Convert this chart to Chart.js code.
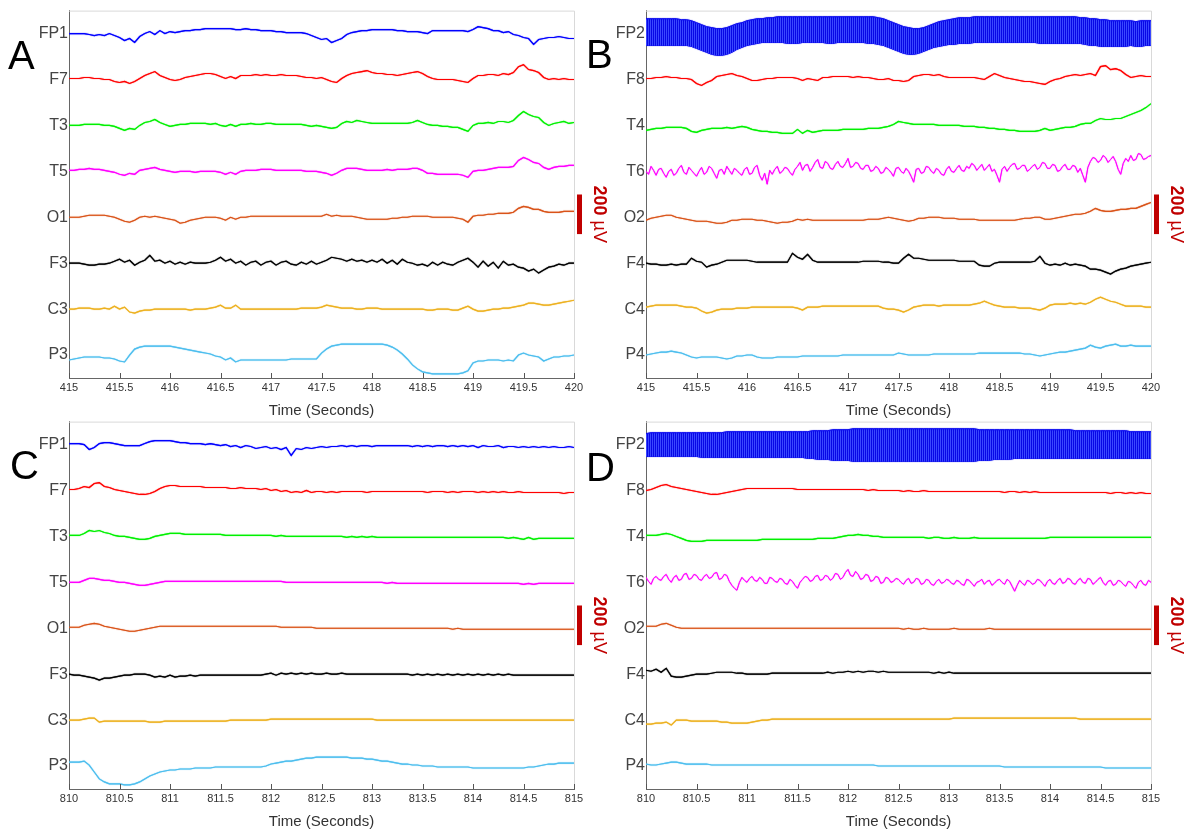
<!DOCTYPE html>
<html>
<head>
<meta charset="utf-8">
<script src="https://cdn.jsdelivr.net/npm/chart.js@4.4.0/dist/chart.umd.min.js"></script>
<style>
  body { margin: 0; background: #fff; width: 1187px; height: 833px; position: relative; overflow: hidden; font-family: "Liberation Sans", Arial, sans-serif; }
  canvas { position: absolute; }
  .letter { position: absolute; font-size: 40px; line-height: 1; color: #000; }
</style>
</head>
<body>
<canvas id="chartA" width="612" height="420" style="left:0;top:0"></canvas>
<canvas id="chartB" width="612" height="420" style="left:577px;top:0"></canvas>
<canvas id="chartC" width="612" height="420" style="left:0;top:411px"></canvas>
<canvas id="chartD" width="612" height="420" style="left:577px;top:411px"></canvas>
<div class="letter" style="left:8px;top:35px">A</div>
<div class="letter" style="left:586px;top:34px">B</div>
<div class="letter" style="left:10px;top:445px">C</div>
<div class="letter" style="left:586px;top:447px">D</div>
<script>
// canales (de arriba a abajo)
const chanLeft = ['FP1', 'F7', 'T3', 'T5', 'O1', 'F3', 'C3', 'P3'];
const chanRight = ['FP2', 'F8', 'T4', 'T6', 'O2', 'F4', 'C4', 'P4'];
const chanColors = ['#0000ff', '#ff0000', '#00f000', '#ff00ff', '#d95319', '#000000', '#edb120', '#4dbeee'];

// eje de tiempo: 5 s por panel
const startAB = 415;
const startCD = 810;
const SPAN = 5;
const ticksAB = ['415', '415.5', '416', '416.5', '417', '417.5', '418', '418.5', '419', '419.5', '420'];
const ticksCD = ['810', '810.5', '811', '811.5', '812', '812.5', '813', '813.5', '814', '814.5', '815'];

const SPACING = 232;   // µV entre canales
const BAR_UV = 200;

// Panel A (µV, relativo a la línea base de cada canal, 101 muestras)
const A_FP1 = [0,0,0,0,-5,-10,-5,-10,0,-10, -20,-35,-25,-45,-15,0,10,-5,15,0, 10,5,10,15,15,20,20,25,25,25, 25,25,25,20,20,25,20,20,15,15, 15,10,10,5,5,5,5,0,-10,-20, -30,-25,-45,-35,-25,-5,5,10,15,15, 20,20,20,20,20,15,15,10,10,10, 5,0,15,15,15,15,15,15,15,10, 20,35,30,25,15,15,5,10,-5,-10, -20,-25,-55,-30,-25,-20,-20,-15,-20,-25,-25];
const A_F7 = [5,5,5,10,10,5,5,0,0,-10, -15,-10,-20,-10,5,20,30,40,20,10, 0,-5,0,10,15,20,25,30,30,25, 15,5,15,5,20,20,20,25,20,25, 20,20,25,20,20,20,15,10,10,5, 10,0,-10,-15,5,20,30,35,40,45, 35,30,30,25,25,20,25,30,35,40, 30,15,5,0,0,0,0,-5,-10,-15, 5,20,20,25,25,20,30,25,35,65, 75,50,45,35,10,0,5,0,5,0,0];
const A_T3 = [0,0,0,5,5,5,5,0,0,-5, -15,-25,-15,-20,0,15,20,30,15,5, -5,0,5,5,10,10,10,10,5,10, 0,-5,5,-5,5,5,10,5,5,10, 10,5,5,5,5,5,5,0,-5,0, -5,-10,-15,-10,10,20,15,25,20,15, 10,10,10,10,10,10,10,10,15,25, 15,5,0,0,-5,-5,-10,-10,-20,-30, 0,10,10,15,10,20,20,15,25,50, 70,55,45,40,15,0,10,15,20,10,15];
const A_T5 = [5,5,10,10,15,10,10,5,0,-5, -15,-20,-10,-15,5,10,15,20,10,5, 0,-5,0,0,0,-5,0,0,0,0, -5,-15,-5,-15,0,5,5,5,10,10, 10,5,5,5,5,5,5,0,0,0, -5,-10,-20,-10,5,15,15,15,10,5, 5,5,5,10,5,10,10,10,15,15, 5,-10,-10,-15,-15,-15,-15,-15,-20,-30, 0,5,5,10,15,20,20,20,25,55, 70,60,45,40,20,10,20,25,25,30,30];
const A_O1 = [0,0,0,5,10,10,10,10,5,0, -10,-20,-25,-15,0,5,0,5,0,-5, -10,-15,-30,-25,-15,-10,-5,0,0,0, -5,-15,0,-10,0,0,5,5,5,5, 5,5,5,5,5,5,5,5,5,5, 5,15,5,10,5,5,5,0,-5,-10, -10,-10,-10,-10,-5,-5,0,0,5,5, 5,5,0,0,0,0,0,-5,-10,-25, 5,10,10,15,15,20,20,20,25,45, 55,50,40,40,30,25,25,25,30,30,30];
const A_F3 = [0,0,0,-5,-10,-10,-5,-5,0,10, 20,5,15,-10,5,15,40,10,15,0, 10,-5,5,-5,5,0,0,0,5,15, 30,10,20,0,10,-10,5,10,-10,5, 10,-10,5,10,-5,-10,5,-5,10,-5, 5,15,30,25,20,10,20,10,15,5, 15,5,20,0,15,-5,20,5,0,-10, -5,-15,5,-10,5,-5,-10,5,15,25, 5,-20,10,-15,5,-25,10,-10,-5,-20, -25,-40,-30,-50,-35,-20,-15,-5,-10,0,0];
const A_C3 = [0,0,5,5,5,0,0,5,0,15, 0,10,-15,-20,-10,-5,-5,0,0,0, 0,0,0,0,-5,0,0,0,5,10, 20,5,5,20,0,0,0,0,0,0, 0,0,0,0,0,0,5,5,5,5, 10,20,15,10,5,5,5,0,0,5, 5,5,0,0,0,0,0,0,0,0, 0,-5,-5,0,0,0,-5,-5,5,15, 0,-10,-10,-5,0,0,5,5,10,15, 20,30,30,25,20,20,25,30,35,40,45];
const A_P3 = [-25,-20,-15,-10,-10,-10,-10,-15,-15,-20, -30,-35,0,30,40,45,45,45,45,45, 45,40,35,30,25,20,15,10,5,-5, -10,-25,-15,-35,-25,-25,-25,-25,-25,-25, -25,-25,-25,-25,-20,-20,-20,-20,-20,-20, 10,30,45,50,55,55,55,55,55,55, 55,55,55,50,40,25,5,-20,-50,-70, -85,-90,-95,-95,-95,-95,-95,-95,-90,-80, -40,-30,-30,-25,-25,-25,-30,-25,-30,0, 10,0,-5,-10,-30,-20,-10,-10,-5,-5,0];

// Panel B (FP2 es una banda: borde superior e inferior)
const B_FP2_HI = [75,75,75,75,75,75,75,70,70,65, 55,45,35,30,25,25,30,40,50,55, 65,70,75,75,80,80,85,85,85,85, 85,85,85,85,85,85,85,85,85,85, 85,85,85,85,85,85,80,75,65,55, 45,35,30,25,25,30,40,50,60,65, 70,75,80,80,80,85,85,85,85,85, 85,85,85,85,85,85,85,85,85,85, 85,85,85,85,85,85,80,80,75,75, 70,70,65,65,65,65,65,60,65,65,65];
const B_FP2_LO = [-60,-60,-60,-60,-60,-60,-60,-60,-60,-65, -75,-85,-95,-105,-110,-110,-105,-95,-80,-70, -60,-55,-50,-45,-45,-45,-45,-45,-50,-50, -50,-45,-45,-45,-45,-45,-50,-50,-45,-45, -45,-45,-45,-45,-50,-50,-55,-60,-70,-80, -90,-100,-105,-105,-100,-90,-80,-70,-65,-60, -55,-55,-50,-50,-50,-45,-45,-45,-45,-45, -45,-45,-45,-45,-45,-45,-45,-45,-50,-50, -50,-50,-50,-50,-50,-50,-50,-55,-60,-60, -65,-65,-65,-65,-65,-65,-60,-65,-65,-60,-60];
const B_F8 = [5,5,10,10,15,10,10,5,5,0, -20,-30,-15,-5,15,20,25,30,20,15, 5,-5,-5,0,5,5,10,10,10,10, 5,-5,5,0,-5,10,10,15,15,15, 15,10,15,10,10,5,0,0,5,-5, -5,-10,-5,15,20,25,25,20,25,15, 10,10,10,10,10,10,5,0,15,30, 20,10,5,0,-5,-10,-10,-15,-20,-25, -10,0,5,15,20,25,20,25,30,20, 65,70,50,55,45,25,10,15,20,15,15];
const B_T4 = [-25,-20,-15,-15,-10,-10,-10,-10,-15,-30, -35,-25,-20,-15,-15,-15,-10,-15,-10,-5, -10,-20,-25,-30,-30,-35,-35,-40,-40,-40, -20,-40,-25,-35,-30,-25,-25,-25,-25,-20, -20,-20,-20,-20,-15,-15,-15,-10,-5,5, 20,15,10,5,5,5,5,5,0,0, 0,0,0,-5,-5,-5,-10,-10,-15,-15, -20,-20,-25,-25,-30,-30,-30,-30,-25,-15, -25,-20,-15,-10,-10,-5,5,10,10,25, 35,30,30,35,35,45,55,65,75,90,110];
// T6 es muy ruidoso: 201 muestras
const B_T6 = [0,-15,25,5,-20,10,15,-10,-30,0, 10,-20,-10,15,30,-5,-15,20,5,-10,
    -25,0,20,-15,-5,25,15,-10,-35,5, 10,-15,25,5,-15,15,5,-10,-20,10,
    20,-15,-10,20,30,-20,-45,-10,-65,5, -15,10,25,-10,0,20,15,-5,-20,10,
    25,45,5,30,35,0,20,45,60,20, 15,50,40,15,10,35,50,25,20,40,
    65,20,25,45,40,15,10,30,30,0, 5,25,15,-10,-5,20,10,-5,-25,15,
    20,0,-10,15,0,-25,-55,10,15,-10, -5,25,20,0,-10,15,5,-15,-20,10,
    25,0,-5,15,30,5,0,25,15,40, 30,5,20,35,5,20,35,0,10,-20,
    -55,10,25,0,20,35,40,10,15,30, 30,0,10,25,35,10,20,45,40,15,
    15,35,30,0,5,25,35,10,10,30, 25,-5,15,-20,-55,20,50,70,65,45,
    55,80,70,45,60,75,50,10,-15,40, 65,50,80,55,60,90,85,60,65,75, 80];
const B_O2 = [-15,-5,0,5,10,10,0,-5,-10,-15, -20,-20,-20,-25,-30,-30,-25,-15,-15,-10, -10,-10,-15,-15,-20,-25,-30,-25,-25,-20, -10,-15,-10,-15,-15,-15,-15,-15,-15,-15, -15,-15,-15,-15,-10,-10,-10,-5,0,-5, -10,-15,-20,-15,-5,-5,0,0,0,-5, -5,-5,-10,-10,-10,-10,-15,-15,-15,-15, -15,-15,-15,-15,-10,-5,-5,0,0,-10, -10,-5,0,5,10,15,15,20,30,45, 35,30,30,35,40,40,45,45,55,65,75];
const B_F4 = [0,-5,-5,-10,-10,-5,-10,-5,-5,25, 10,5,-20,-10,-5,5,15,15,15,15, 15,10,5,5,5,5,5,5,5,50, 30,20,45,15,5,5,5,5,5,5, 5,5,5,10,10,10,10,5,5,0, 0,25,45,25,25,20,15,15,15,15, 15,15,10,10,10,10,-10,-15,-15,0, 5,5,5,5,5,5,5,10,35,0, -10,-5,-10,0,-10,-5,-10,-15,-30,-30, -35,-45,-55,-40,-30,-25,-15,-10,-5,0,5];
const B_C4 = [10,15,20,20,20,20,20,15,10,10, 5,-10,-20,-15,-5,0,0,0,5,5, 5,10,10,10,10,10,10,10,10,10, 5,-5,10,10,10,15,15,15,15,15, 15,15,15,15,15,15,15,5,0,0, -5,-15,-5,10,15,20,20,20,15,20, 20,20,20,20,20,25,30,40,30,20, 15,10,10,10,5,5,5,0,-5,5, 20,25,25,25,30,25,30,25,35,50, 60,50,40,35,25,15,15,15,15,10,10];
const B_P4 = [0,5,10,15,15,20,15,10,0,-10, -15,-10,-10,-10,-10,-15,-20,-15,-5,-5, 0,0,-10,-15,-15,-15,-10,-10,-10,-10, -10,-5,-5,-5,-5,-5,-5,-5,-5,0, 0,0,0,0,0,0,0,0,0,0, 10,5,0,0,0,0,0,5,5,5, 5,5,5,5,5,5,10,10,10,10, 10,10,10,10,10,5,5,0,-5,0, 5,10,15,15,20,25,30,35,50,40, 35,45,50,55,45,45,50,45,45,45,45];

// Panel C
const C_FP1 = [5,5,5,0,-25,-15,5,10,10,5, 0,-5,-5,-5,-5,5,15,20,20,20, 20,15,10,10,5,5,5,0,5,0, -5,0,-10,-5,-15,-5,-10,-20,-15,-10, -20,-15,-25,-15,-55,-20,-25,-15,-20,-15, -10,-15,-10,-10,-5,-10,-5,-10,-5,-5, -10,-5,-5,-5,-5,-5,-5,-5,-10,-5, -10,-5,-10,-5,-5,-10,-5,-10,-5,-10, -5,-15,-5,-10,-10,-5,-15,-10,-10,-15, -10,-15,-10,-15,-10,-15,-10,-15,-15,-10,-15];
const C_F7 = [5,5,10,20,15,35,40,20,15,5, 0,-5,-10,-15,-20,-20,-15,-5,10,20, 25,25,20,20,20,20,20,15,15,15, 15,15,10,10,15,10,10,10,5,10, 0,5,-5,0,-10,-5,-10,0,-10,-5, -5,-10,-5,-10,-5,-5,-5,-5,-5,-10, -5,-5,-5,-5,-5,-5,-5,-5,-5,-5, -5,-10,-5,-5,-5,-10,-5,-10,-5,-5, -5,-10,-5,-10,-5,-10,-5,-10,-10,-5, -10,-10,-10,-10,-10,-10,-10,-10,-15,-10,-10];
const C_T3 = [5,5,5,15,30,25,30,20,15,5, 0,0,-5,-10,-15,-15,-10,0,5,10, 15,15,15,10,10,10,10,10,10,10, 10,5,5,5,5,5,5,5,5,5, 5,0,5,0,0,0,0,0,0,0, 0,0,0,0,0,-5,0,-5,0,-5, 0,-5,-5,-5,-5,-5,-5,-5,-5,-5, -5,-5,-5,-5,-5,-5,-5,-5,-5,-5, -5,-5,-5,-5,-5,-5,-5,-10,-5,-10, -15,-5,-15,-10,-10,-10,-10,-10,-10,-10,-10];
const C_T5 = [0,0,0,10,20,20,15,10,10,5, 0,0,-5,-10,-15,-15,-10,-5,0,5, 5,5,5,5,5,5,5,5,5,5, 5,5,5,5,5,5,5,5,5,5, 5,5,5,0,0,0,0,0,0,0, 0,0,0,0,0,0,0,0,0,0, 0,0,0,-5,0,-5,-5,-5,-5,-5, -5,-5,-5,-5,-5,-5,-5,-5,-5,-5, -5,-5,-5,-5,-5,-5,-5,-5,-5,-5, -10,-5,-10,-5,-5,-5,-5,-5,-5,-5,-5];
const C_O1 = [5,5,5,15,20,25,20,10,5,0, -5,-10,-15,-15,-10,-5,0,5,10,10, 10,10,10,10,10,10,10,10,10,10, 10,10,10,10,10,10,10,10,10,10, 10,10,5,5,5,5,5,5,5,0, 0,0,0,0,0,0,0,0,0,0, 0,0,0,0,0,0,0,0,0,0, 0,0,0,0,0,0,-5,0,-5,-5, -5,-5,-5,-5,-5,-5,-5,-5,-5,-5, -5,-5,-5,-5,-5,-5,-5,-5,-5,-5,-5];
const C_F3 = [0,-5,-5,-10,-15,-20,-30,-20,-20,-15, -10,-5,-5,0,0,0,-5,-15,-10,-15, -5,-15,-10,-10,-5,-10,-5,-5,-5,-5, -5,-5,-5,-5,-5,-5,-5,-5,-5,0, 5,-5,5,0,5,0,5,0,5,0, 0,5,0,0,5,0,0,0,0,0, 0,0,0,0,0,0,0,0,-5,0, -5,0,-5,0,-5,0,-5,0,-5,0, -5,0,-5,0,-5,0,-5,0,-5,-5, -5,-5,-5,-5,-5,-5,-5,-5,-5,-5,-5];
const C_C3 = [0,0,0,5,10,10,-10,-5,-5,-5, -5,-5,-5,-5,-5,-5,-10,-10,-10,-5, -5,-5,-5,-5,-5,-5,-5,-5,-5,-5, -5,-5,0,0,0,0,0,0,0,0, 5,5,5,5,5,5,5,5,5,5, 5,5,5,5,5,5,5,5,5,5, 5,0,0,0,0,0,0,0,0,0, 0,0,0,0,0,0,0,0,0,0, 0,0,0,0,0,0,0,0,0,0, 0,0,0,0,0,0,0,0,0,0,0];
const C_P3 = [20,20,20,25,5,-30,-65,-80,-90,-90, -90,-95,-95,-90,-80,-65,-50,-40,-30,-25, -20,-20,-15,-15,-15,-10,-10,-10,-10,-5, -5,-5,-5,-5,-5,-5,-5,-5,-5,0, 10,15,20,25,25,30,35,40,40,45, 45,45,45,45,45,45,40,40,40,35, 35,30,25,25,20,15,10,10,5,5, 0,0,0,-5,-5,-5,-5,-5,-5,-5, -10,-10,-10,-10,-10,-10,-10,-10,-10,-10, -10,-5,-5,0,5,10,10,15,15,15,15];

// Panel D
const D_FP2_HI = [55,60,60,60,60,60,60,60,60,60, 60,60,60,60,60,60,65,65,65,65, 65,65,65,65,65,65,65,65,65,65, 65,65,65,70,70,70,70,75,75,75, 75,80,80,80,80,80,80,80,80,80, 80,80,80,80,80,80,80,80,80,80, 80,80,80,80,80,80,75,75,75,75, 75,75,75,75,75,75,75,75,75,75, 75,75,75,75,75,70,70,70,70,70, 70,70,70,70,70,70,65,65,65,65,65];
const D_FP2_LO = [-60,-60,-60,-60,-60,-60,-60,-60,-60,-60, -60,-65,-65,-65,-65,-65,-65,-65,-65,-65, -65,-65,-65,-65,-65,-65,-65,-65,-65,-65, -65,-65,-70,-70,-75,-75,-75,-80,-80,-80, -80,-85,-85,-85,-85,-85,-85,-85,-85,-85, -85,-85,-85,-85,-85,-85,-85,-85,-85,-85, -85,-85,-85,-85,-85,-85,-80,-80,-80,-75, -75,-75,-75,-70,-70,-70,-70,-70,-70,-70, -70,-70,-70,-70,-70,-70,-70,-70,-70,-70, -70,-70,-70,-70,-70,-70,-70,-70,-70,-70,-70];
const D_F8 = [0,5,15,25,30,20,15,10,5,0, -5,-10,-15,-20,-20,-15,-10,-5,0,5, 10,10,10,10,10,10,10,10,10,10, 5,5,5,5,5,5,5,5,5,5, 5,5,5,5,0,5,0,0,0,0, 0,-5,0,-5,-5,0,-5,-5,-5,-5, -5,-5,-5,-5,-5,-5,-5,-5,-5,-5, -5,-10,-5,-5,-10,-5,-10,-5,-10,-10, -10,-10,-10,-10,-10,-10,-10,-10,-10,-10, -10,-10,-15,-10,-10,-15,-10,-15,-10,-15,-15];
const D_T4 = [5,5,5,10,15,10,0,-10,-20,-25, -25,-25,-20,-20,-20,-20,-20,-20,-20,-20, -20,-20,-20,-15,-15,-15,-15,-15,-15,-15, -15,-15,-15,-15,-10,-10,-10,-10,-5,0, 5,5,10,5,5,0,0,-5,-5,-5, -5,-5,-5,-5,-5,-5,-10,-5,-5,-10, -10,-5,-10,-10,-10,-5,-10,-10,-10,-10, -10,-10,-10,-10,-10,-10,-10,-10,-10,-10, -5,-5,-5,-5,-5,-5,-5,-5,-5,-5, -5,-5,-5,-5,-5,-5,-5,-5,-5,-5,-5];
// T6 es muy ruidoso: 201 muestras
const D_T6 = [25,5,-10,20,30,15,10,30,40,15, 0,25,35,10,15,40,45,15,20,40,
    35,15,10,30,40,20,25,45,50,15, 20,40,35,5,-15,-30,-40,0,25,10,
    0,20,30,10,5,25,15,-5,-5,25, 20,5,0,20,15,-5,-10,15,5,-15,
    -30,0,15,30,25,5,10,30,35,10, 15,35,30,10,20,45,40,15,25,50,
    65,35,30,55,40,15,20,40,35,5, 10,30,25,-5,0,25,20,0,5,20,
    15,0,-10,10,20,-5,0,20,15,-10, -5,15,10,-10,-15,5,15,-5,0,15,
    10,-5,-10,10,5,-10,-15,15,10,-5, -20,0,5,15,-10,5,10,-15,-5,10,
    15,0,-10,15,5,-20,-45,-15,10,-5, -15,10,5,-10,-5,15,10,-5,-20,5,
    15,-5,-10,10,20,-5,0,20,15,-5, -10,10,20,0,-5,20,15,-10,0,15,
    25,0,-15,5,10,-15,-10,10,5,-10, -20,5,0,-15,-30,0,10,-10,-15,10, 0];
const D_O2 = [10,10,10,20,25,15,5,0,0,0, 0,0,0,0,0,0,0,0,0,0, 0,0,0,0,0,0,0,0,0,0, 0,0,0,0,0,0,0,0,0,0, 0,0,0,0,0,0,0,0,0,0, 0,-5,0,-5,-5,0,-5,-5,-5,-5, -5,0,-5,-5,-5,-5,-5,-5,0,-5, -5,-5,-5,-5,-5,-5,-5,-5,-5,-5, -5,-5,-5,-5,-5,-5,-5,-5,-5,-5, -5,-5,-5,-5,-5,-5,-5,-5,-5,-5,-5];
const D_F4 = [20,15,25,10,30,-10,-15,-15,-10,-5, 0,0,0,5,10,10,10,10,5,5, 0,0,0,0,0,5,5,5,5,5, 5,5,5,5,5,5,10,5,10,10, 15,10,15,10,15,15,10,15,10,10, 10,10,10,10,10,10,10,5,10,5, 10,5,5,5,5,5,5,5,5,5, 5,5,5,5,5,5,5,5,5,5, 5,5,5,5,5,5,5,5,5,5, 5,5,5,5,5,5,5,5,5,5,5];
const D_C4 = [-20,-20,-15,-15,-10,-25,0,0,0,-5, -5,-5,-5,-5,-5,-10,-10,-15,-15,-15, -15,-10,-5,0,0,5,5,5,5,5, 5,5,5,5,5,5,5,5,5,5, 5,5,5,5,5,5,5,5,5,5, 5,5,5,5,5,5,5,5,5,5, 5,10,10,10,10,10,10,10,10,10, 10,10,10,10,10,10,10,10,10,10, 10,10,10,10,10,10,5,5,5,5, 5,5,5,5,5,5,5,5,5,5,5];
const D_P4 = [10,5,5,10,15,20,20,15,10,10, 10,10,10,5,5,5,5,5,5,5, 5,5,5,5,5,5,5,5,5,5, 5,5,5,5,5,5,5,5,5,5, 5,5,5,5,5,5,0,0,0,0, 0,0,0,0,0,0,0,0,0,0, 0,0,0,0,0,0,0,0,0,0, 0,-5,-5,-5,-5,-5,-5,-5,-5,-5, -5,-5,-5,-5,-5,-5,-5,-5,-5,-5, -5,-10,-10,-10,-10,-10,-10,-10,-10,-10,-10];

const FONT = '"Liberation Sans", Arial, sans-serif';

function toPoints(values, base, t0) {
    const step = SPAN / (values.length - 1);
    return values.map((v, i) => ({ x: t0 + i * step, y: base + v }));
}

// textura de rayas verticales para la banda FP2
function bandPattern() {
    const c = document.createElement('canvas');
    c.width = 2; c.height = 1;
    const g = c.getContext('2d');
    g.fillStyle = '#0808e6'; g.fillRect(0, 0, 1, 1);
    g.fillStyle = '#3a48ff'; g.fillRect(1, 0, 1, 1);
    return g.createPattern(c, 'repeat');
}

function buildDatasets(names, series, band, t0) {
    const datasets = [];
    names.forEach((name, k) => {
        const base = (7 - k) * SPACING;
        if (k === 0 && band) {
            datasets.push({ data: toPoints(band[0], base, t0), borderColor: '#1010f0', backgroundColor: bandPattern(), borderWidth: 1, fill: '+1' });
            datasets.push({ data: toPoints(band[1], base, t0), borderColor: '#1010f0', borderWidth: 1, fill: false });
        } else {
            const noisy = series[k].length > 101;
            datasets.push({ data: toPoints(series[k], base, t0), borderColor: chanColors[k], borderWidth: noisy ? 1 : 1.15, fill: false });
        }
    });
    return datasets;
}

// halo suave alrededor de cada traza
const haloPlugin = {
    id: 'halo',
    beforeDatasetDraw(chart, args) {
        const ctx = chart.ctx;
        ctx.save();
        ctx.shadowColor = args.meta.dataset.options.borderColor;
        ctx.shadowBlur = 1;
    },
    afterDatasetDraw(chart) {
        chart.ctx.restore();
    }
};

// caja gris clara, marcas internas del eje x y barra de escala
const decorPlugin = {
    id: 'decor',
    afterDraw(chart) {
        const ctx = chart.ctx;
        const a = chart.chartArea;
        const xs = chart.scales.x, ys = chart.scales.y;
        ctx.save();
        ctx.strokeStyle = '#d9d9d9';
        ctx.lineWidth = 1;
        ctx.beginPath();
        ctx.moveTo(a.left, a.top + 0.5); ctx.lineTo(a.right + 0.5, a.top + 0.5);
        ctx.lineTo(a.right + 0.5, a.bottom);
        ctx.stroke();
        ctx.strokeStyle = '#555';
        ctx.beginPath();
        xs.ticks.forEach(t => {
            const px = Math.round(xs.getPixelForValue(t.value)) + 0.5;
            ctx.moveTo(px, a.bottom); ctx.lineTo(px, a.bottom - 5);
        });
        ctx.stroke();
        // barra de 200 µV junto al canal O1/O2
        const base = 3 * SPACING;
        const yTop = ys.getPixelForValue(base + 115);
        const yBot = ys.getPixelForValue(base + 115 - BAR_UV);
        ctx.fillStyle = '#c00000';
        ctx.fillRect(a.right + 3, yTop, 5, yBot - yTop);
        ctx.translate(a.right + 25, ys.getPixelForValue(base) - 3);
        ctx.rotate(Math.PI / 2);
        ctx.textBaseline = 'middle';
        ctx.font = 'bold 18px ' + FONT;
        const w1 = ctx.measureText('200').width;
        ctx.font = '18px ' + FONT;
        const w2 = ctx.measureText(' µV').width;
        const x0 = -(w1 + w2) / 2;
        ctx.font = 'bold 18px ' + FONT;
        ctx.fillText('200', x0, 0);
        ctx.font = '18px ' + FONT;
        ctx.fillText(' µV', x0 + w1, 0);
        ctx.restore();
    }
};

function crearPanel(id, names, series, band, t0, tickLabels) {
    const ctx = document.getElementById(id).getContext('2d');
    return new Chart(ctx, {
        type: 'line',
        data: { datasets: buildDatasets(names, series, band, t0) },
        plugins: [haloPlugin, decorPlugin],
        options: {
            responsive: false,
            animation: false,
            layout: { padding: { left: 0, top: 7, right: 38, bottom: 0 } },
            elements: { point: { radius: 0 }, line: { tension: 0 } },
            plugins: { legend: { display: false }, tooltip: { enabled: false } },
            scales: {
                x: {
                    type: 'linear',
                    min: t0,
                    max: t0 + SPAN,
                    afterBuildTicks: s => { s.ticks = tickLabels.map(v => ({ value: parseFloat(v) })); },
                    afterFit: s => { s.height = 42; },
                    grid: { display: false, drawTicks: false },
                    border: { color: '#666', width: 1 },
                    ticks: {
                        autoSkip: false, maxRotation: 0, padding: 3, color: '#333',
                        font: { family: FONT, size: 11 },
                        callback: (v, i) => tickLabels[i]
                    },
                    title: { display: true, text: 'Time (Seconds)', color: '#333', font: { family: FONT, size: 15 }, padding: { top: 0, bottom: 0 } }
                },
                y: {
                    min: -0.5 * SPACING,
                    max: 7.5 * SPACING,
                    afterBuildTicks: s => { s.ticks = names.map((n, k) => ({ value: (7 - k) * SPACING })).reverse(); },
                    afterFit: s => { s.width = 69; },
                    grid: { display: false, drawTicks: false },
                    border: { color: '#666', width: 1 },
                    ticks: {
                        autoSkip: false, padding: 1, color: '#444',
                        font: { family: FONT, size: 16 },
                        callback: v => names[7 - Math.round(v / SPACING)]
                    }
                }
            }
        }
    });
}

crearPanel('chartA', chanLeft, [A_FP1, A_F7, A_T3, A_T5, A_O1, A_F3, A_C3, A_P3], null, startAB, ticksAB);
crearPanel('chartB', chanRight, [null, B_F8, B_T4, B_T6, B_O2, B_F4, B_C4, B_P4], [B_FP2_HI, B_FP2_LO], startAB, ticksAB);
crearPanel('chartC', chanLeft, [C_FP1, C_F7, C_T3, C_T5, C_O1, C_F3, C_C3, C_P3], null, startCD, ticksCD);
crearPanel('chartD', chanRight, [null, D_F8, D_T4, D_T6, D_O2, D_F4, D_C4, D_P4], [D_FP2_HI, D_FP2_LO], startCD, ticksCD);
</script>
</body>
</html>
